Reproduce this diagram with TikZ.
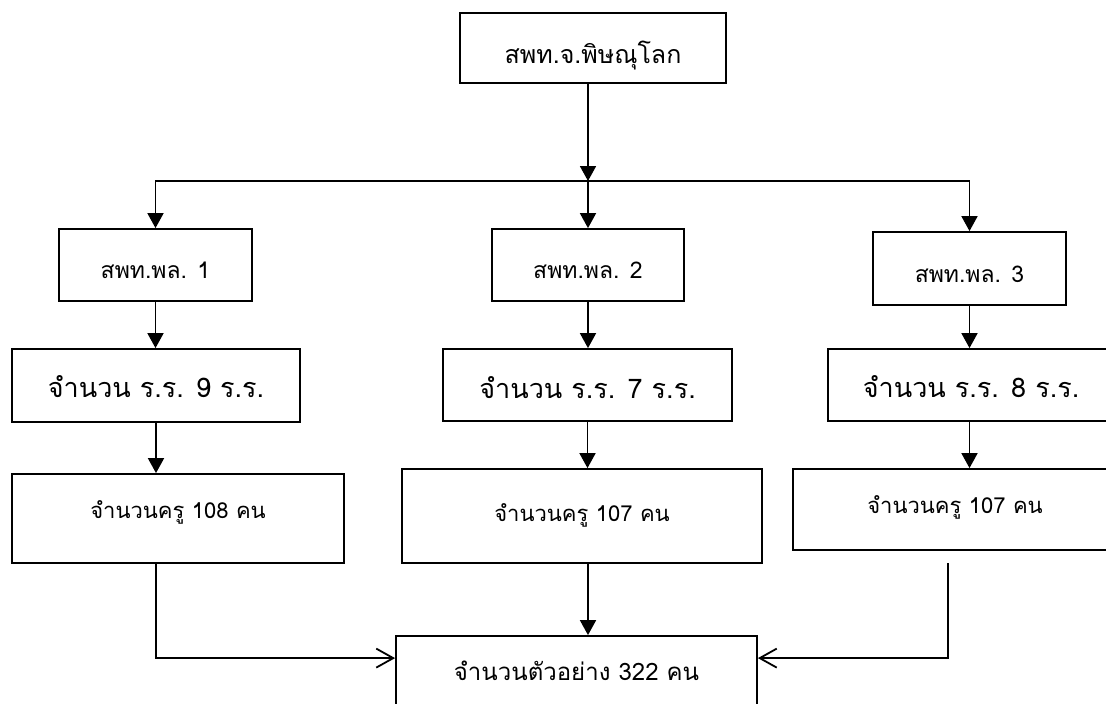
\documentclass[tikz,border=0pt]{standalone}
\usepackage{fontspec}
\setmainfont[Script=Thai]{Loma}
\usetikzlibrary{arrows.meta}

\begin{document}
\begin{tikzpicture}[x=1pt, y=-1pt,
        box/.style={draw, line width=1.8pt, inner xsep=0pt, inner ysep=0pt, anchor=base},
        arr/.style={line width=1.8pt, -{Triangle[length=15pt,width=16pt]}},
        barb/.style={line width=1.8pt, -{Straight Barb[length=17pt,width=19pt]}}]
                \useasboundingbox (0,0) rectangle (1106,704);
                \clip (0,0) rectangle (1106,704);

                \node[box, minimum width=266pt, text height=50pt, text depth=20pt, font=\fontsize{25}{27}\selectfont](top) at (593,63) {สพท.จ.พิษณุโลก};

                \node[box, minimum width=193pt, text height=49pt, text depth=23pt, font=\fontsize{23}{25}\selectfont](areaOne) at (155.5,278) {สพท.พล. 1};
                \node[box, minimum width=192pt, text height=49pt, text depth=23pt, font=\fontsize{23}{25}\selectfont](areaTwo) at (588,278) {สพท.พล. 2};
                \node[box, minimum width=193pt, text height=50pt, text depth=23pt, font=\fontsize{23}{25}\selectfont](areaThree) at (969.5,282) {สพท.พล. 3};

                \node[box, minimum width=288pt, text height=48pt, text depth=25pt, font=\fontsize{27}{29}\selectfont](schoolOne) at (156,397) {จำนวน ร.ร. 9 ร.ร.};
                \node[box, minimum width=289pt, text height=49pt, text depth=23pt, font=\fontsize{27}{29}\selectfont](schoolTwo) at (587.5,398) {จำนวน ร.ร. 7 ร.ร.};
                \node[box, minimum width=286pt, text height=48pt, text depth=24pt, font=\fontsize{27}{29}\selectfont](schoolThree) at (971,397) {จำนวน ร.ร. 8 ร.ร.};

                \node[box, minimum width=332pt, text height=44pt, text depth=45pt, font=\fontsize{22}{24}\selectfont](teacherOne) at (178,518) {จำนวนครู 108 คน};
                \node[box, minimum width=360pt, text height=52pt, text depth=42pt, font=\fontsize{22}{24}\selectfont](teacherTwo) at (582,521) {จำนวนครู 107 คน};
                \node[box, minimum width=324pt, text height=44pt, text depth=37pt, font=\fontsize{22}{24}\selectfont](teacherThree) at (955,513) {จำนวนครู 107 คน};

                \node[box, minimum width=361pt, text height=44pt, text depth=40pt, font=\fontsize{24}{26}\selectfont](total) at (576.5,680) {จำนวนตัวอย่าง 322 คน};

                \coordinate (split) at (588,181);
                \coordinate (rightStart) at (948,563);

                                \draw[arr] (top.south -| split) -- (split);
                                \draw[arr] (split) -- (areaTwo.north);
                                \draw[arr] (split) -| (areaOne.north);
                                \draw[arr] (split) -| (areaThree.north);

                                \draw[arr] (areaOne.south) -- (areaOne.south |- schoolOne.north);
                                \draw[arr] (areaTwo.south) -- (areaTwo.south |- schoolTwo.north);
                                \draw[arr] (areaThree.south) -- (areaThree.south |- schoolThree.north);

                                \draw[arr] (schoolOne.south) -- (schoolOne.south |- teacherOne.north);
                                \draw[arr] (schoolTwo.south) -- (schoolTwo.south |- teacherTwo.north);
                                \draw[arr] (areaThree.south |- schoolThree.south) -- (areaThree.south |- teacherThree.north);

                                \draw[arr] (areaTwo.south |- teacherTwo.south) -- (areaTwo.south |- total.north);
                                \draw[barb] (schoolOne.south |- teacherOne.south) |- ([yshift=-23pt]total.north west);
                                \draw[barb] (rightStart) |- ([yshift=-23pt]total.north east);

        \end{tikzpicture}
\end{document}
